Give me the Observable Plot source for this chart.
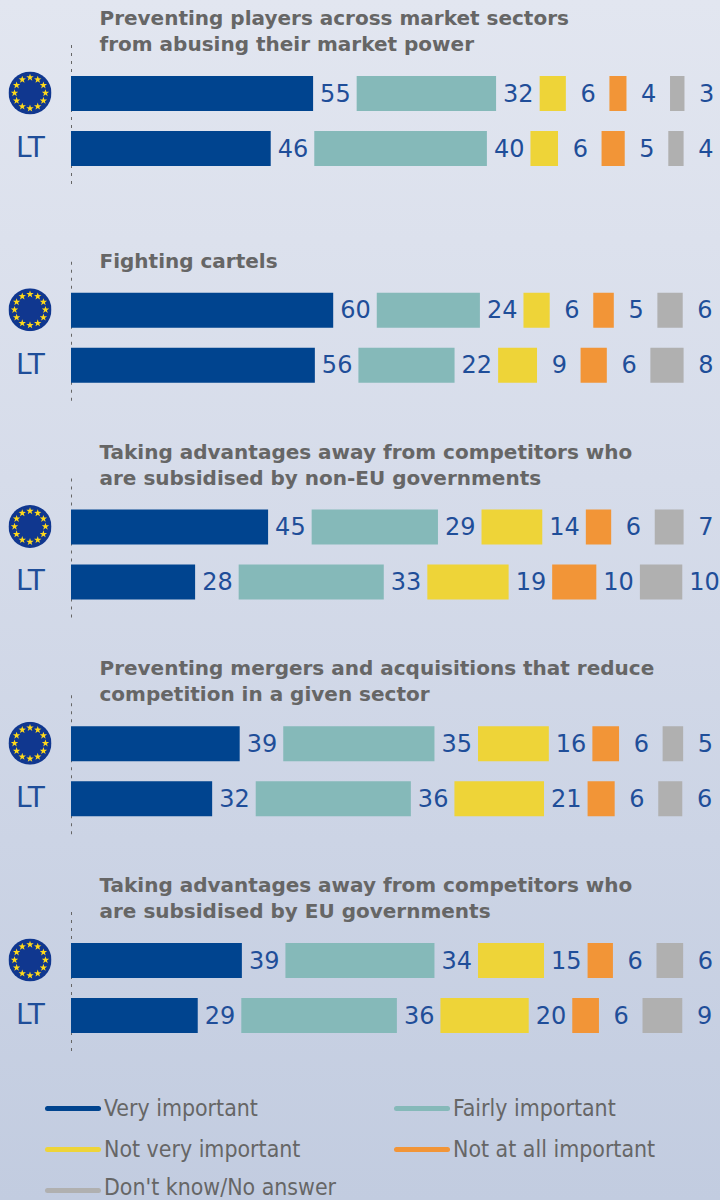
<!DOCTYPE html>
<html>
<head>
<meta charset="utf-8">
<script src="https://cdn.jsdelivr.net/npm/d3@7"></script>
<script src="https://cdn.jsdelivr.net/npm/@observablehq/plot@0.6"></script>
<style>
html,body{margin:0;padding:0;width:720px;height:1200px;overflow:hidden}
body{background:linear-gradient(180deg,#e2e6f0 0%,#d6dcea 40%,#c2cce0 100%);font-family:"DejaVu Sans",sans-serif}
#chart svg{display:block;background:transparent}
#legend{position:relative;height:115px}
.item{position:absolute;display:flex;align-items:center;height:20px;line-height:20px;color:#666;font-family:"DejaVu Sans Condensed","DejaVu Sans",sans-serif;font-size:22.9px;white-space:nowrap}
.sw{display:inline-block;width:56px;height:5px;border-radius:3px;margin-right:3px}
.lift{position:relative;top:-3.5px}
</style>
</head>
<body>
<div id="chart"></div>
<div id="legend"></div>
<script>
const questions = [
  "Preventing players across market sectors\nfrom abusing their market power",
  "Fighting cartels",
  "Taking advantages away from competitors who\nare subsidised by non-EU governments",
  "Preventing mergers and acquisitions that reduce\ncompetition in a given sector",
  "Taking advantages away from competitors who\nare subsidised by EU governments"
];
const rows = ["EU", "LT"];
const answers = ["Very important", "Fairly important", "Not very important", "Not at all important", "Don't know/No answer"];
const colors = ["#00448f", "#85b9b9", "#eed438", "#f29537", "#b0b0b0"];
// EU, LT for each question in turn
const veryImportant = [55.4, 45.7, 60.0, 55.8, 45.1, 28.4, 38.6, 32.3, 39.1, 29.0];
const fairlyImportant = [31.9, 39.5, 23.6, 22.0, 28.9, 33.2, 34.6, 35.5, 34.1, 35.6];
const notVeryImportant = [6.0, 6.3, 6.0, 8.9, 13.9, 18.6, 16.2, 20.5, 15.1, 20.2];
const notAtAllImportant = [3.9, 5.3, 4.7, 6.0, 5.8, 10.1, 6.1, 6.2, 5.8, 6.1];
const dontKnow = [3.3, 3.5, 5.8, 7.6, 6.6, 9.7, 4.7, 5.5, 6.1, 9.1];
const series = [veryImportant, fairlyImportant, notVeryImportant, notAtAllImportant, dontKnow];
const gap = 9.97; // gap between segments, in value units, holds each label

const table = [];
questions.forEach((question, q) => rows.forEach((row, r) => {
  let start = 0;
  series.forEach((values, s) => {
    const value = values[q * 2 + r];
    table.push({question, row, answer: answers[s], value, x1: start, x2: start + value, mid: start + value + gap / 2});
    start += value + gap;
  });
}));

const stars = d3.range(12).map(i => {
  const a = i * Math.PI / 6, cx = 50 + 36 * Math.sin(a), cy = 50 - 36 * Math.cos(a);
  const pts = d3.range(10).map(j => {
    const b = j * Math.PI / 5, rr = j % 2 ? 3.6 : 9;
    return [(cx + rr * Math.sin(b)).toFixed(2), (cy - rr * Math.cos(b)).toFixed(2)].join(",");
  }).join(" ");
  return `<polygon points="${pts}" fill="#ffd91a"/>`;
}).join("");
const flag = "data:image/svg+xml," + encodeURIComponent(
  `<svg xmlns="http://www.w3.org/2000/svg" viewBox="0 0 100 100"><circle cx="50" cy="50" r="50" fill="#10378f"/>${stars}</svg>`);

const font = "DejaVu Sans";
const chart = Plot.plot({
  width: 720,
  height: 1085,
  margin: 0,
  style: {background: "transparent", fontFamily: font},
  x: {axis: null, domain: [0, 649 / 4.37], range: [71, 720]},
  y: {axis: null, domain: rows, range: [0, 90], paddingInner: 0.3636, paddingOuter: 0, round: false},
  fy: {axis: null, domain: questions, range: [76, 76 + 5 * 216.75], padding: 0, round: false},
  color: {domain: answers, range: colors},
  marks: [
    Plot.ruleX(questions, {x: () => 0, y1: () => "EU", y2: () => "LT", fy: d => d, stroke: "#666", strokeWidth: 1, strokeDasharray: "3,5", insetTop: -31, insetBottom: -19}),
    Plot.barX(table, {x1: "x1", x2: "x2", y: "row", fy: "question", fill: "answer"}),
    Plot.text(table, {x: "mid", y: "row", fy: "question", text: d => String(Math.round(d.value)), fontSize: 24, fill: "#1f4e99", textAnchor: "middle"}),
    Plot.text(questions, {x: () => 0, y: () => "EU", fy: d => d, text: d => d, dx: 28, dy: -43, textAnchor: "start", lineAnchor: "bottom", lineHeight: 1.3, fontSize: 20, fontWeight: "bold", fill: "#666"}),
    Plot.image(questions, {x: () => 0, y: () => "EU", fy: d => d, dx: -41.5, dy: -1, width: 43, height: 43, src: () => flag}),
    Plot.text(questions, {x: () => 0, y: () => "LT", fy: d => d, text: () => "LT", dx: -41, dy: -1, textAnchor: "middle", fontSize: 28, fill: "#1f4e99"})
  ]
});
document.getElementById("chart").append(chart);

const legend = document.getElementById("legend");
answers.forEach((a, i) => {
  const el = document.createElement("div");
  el.className = "item";
  el.style.left = (i % 2 ? 394 : 45) + "px";
  el.style.top = (13 + Math.floor(i / 2) * 41) + "px";
  const sw = document.createElement("span");
  sw.className = "sw";
  sw.style.background = colors[i];
  const label = document.createElement("span");
  label.textContent = a;
  if (i === 4) label.className = "lift";
  el.append(sw, label);
  legend.append(el);
});
</script>
</body>
</html>
